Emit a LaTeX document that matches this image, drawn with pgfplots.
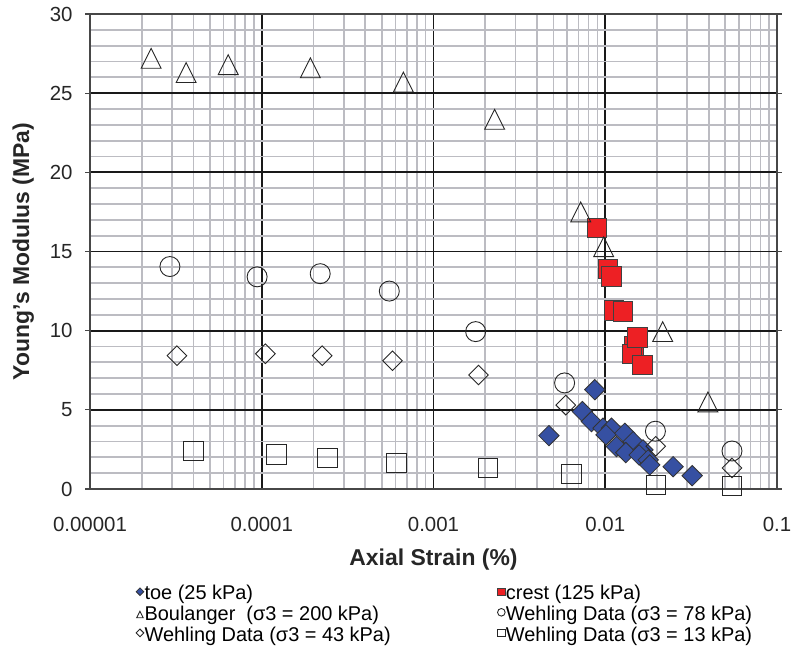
\documentclass[border=0pt]{standalone}
\usepackage{fontspec}
\setmainfont{Liberation Sans}
\usepackage{pgfplots}
\pgfplotsset{compat=1.18}
\definecolor{toeblue}{RGB}{54,80,162}
\definecolor{crestred}{RGB}{237,32,36}
\definecolor{gridgray}{RGB}{188,188,194}
\pgfplotsset{
  lg/.style={legend image code/.code={\draw[##1, mark size=3.8bp, line width=0.7bp] plot coordinates {(0.4em,0.34em)};}},
}
\begin{document}
\begin{tikzpicture}
\useasboundingbox (-90bp,-157bp) rectangle (702bp,489bp);
\begin{axis}[
  at={(0,0)}, anchor=south west,
  scale only axis, width=687bp, height=475bp,
  xmode=log, xmin=1e-5, xmax=0.1, ymin=0, ymax=30,
  clip=false,
  xtick={1e-5,1e-4,1e-3,1e-2,1e-1},
  xticklabels={0.00001,0.0001,0.001,0.01,0.1},
  minor xtick={2e-5,3e-5,4e-5,5e-5,6e-5,7e-5,8e-5,9e-5,
               2e-4,3e-4,4e-4,5e-4,6e-4,7e-4,8e-4,9e-4,
               2e-3,3e-3,4e-3,5e-3,6e-3,7e-3,8e-3,9e-3,
               2e-2,3e-2,4e-2,5e-2,6e-2,7e-2,8e-2,9e-2},
  ytick={0,5,10,15,20,25,30},
  minor ytick={1,2,3,4,6,7,8,9,11,12,13,14,16,17,18,19,21,22,23,24,26,27,28,29},
  grid=both,
  major grid style={black!90, line width=1.7bp},
  minor grid style={gridgray, line width=1.7bp},
  axis line style={draw=black!72, line width=1.8bp},
  tick align=outside,
  major tick length=5bp,
  minor tick length=0bp,
  xtick style={draw=none},
  ytick style={black!72, line width=1.2bp},
  ticklabel style={font=\fontsize{20.5}{24}\selectfont, text=black!85},
  /pgf/number format/assume math mode=true,
  xticklabel style={yshift=-20bp},
  yticklabel style={xshift=-9bp},
  xlabel={\textbf{Axial Strain (\%)}},
  ylabel={\textbf{Young's Modulus (MPa)}},
  label style={font=\fontsize{23}{27}\selectfont, text=black!85},
  xlabel style={yshift=-10bp},
  ylabel style={yshift=9bp},
  legend columns=2,
  legend cell align=left,
  legend style={
    at={(0,0)}, anchor=north west, xshift=43bp, yshift=-94bp,
    draw=none, fill=none,
    font=\fontsize{20}{20}\selectfont,
    nodes={inner sep=0.8bp, text height=14bp, text depth=4.2bp},
    row sep=0.8bp,
    /tikz/column 2/.style={column sep=106bp},
  },
]
% toe (25 kPa)
\addplot[only marks, mark=diamond*, mark size=10.2bp,
  mark options={xscale=1.333, fill=toeblue, draw=black!80, line width=0.8bp}, lg]
  coordinates {
  (4.70e-3,3.37) (8.69e-3,6.27) (7.36e-3,4.89) (8.31e-3,4.26) (9.71e-3,3.84)
  (1.087e-2,3.84) (1.01e-2,3.42) (1.30e-2,3.52) (1.453e-2,2.99) (1.162e-2,2.68)
  (1.318e-2,2.30) (1.658e-2,2.47) (1.574e-2,2.15) (1.778e-2,1.84) (1.817e-2,1.52)
  (2.485e-2,1.41) (3.208e-2,0.84)
  };
\addlegendentry{toe (25 kPa)}
% crest (125 kPa)
\addplot[only marks, mark=square*, mark size=9.8bp,
  mark options={fill=crestred, draw=black!75, line width=0.8bp}, lg]
  coordinates {
  (8.96e-3,16.5) (1.038e-2,13.9) (1.087e-2,13.44) (1.125e-2,11.28) (1.270e-2,11.22)
  (1.472e-2,9.05) (1.428e-2,8.54) (1.541e-2,9.58) (1.640e-2,7.85)
  };
\addlegendentry{crest (125 kPa)}
% Boulanger
\addplot[only marks, mark=triangle, mark size=11.5bp,
  mark options={yshift=-3.3bp, yscale=1.15, draw=black!85, line width=0.9bp}, lg]
  coordinates {
  (2.27e-5,27.2) (3.63e-5,26.3) (6.38e-5,26.8) (1.92e-4,26.6) (6.68e-4,25.7)
  (2.27e-3,23.35) (7.2e-3,17.5) (9.8e-3,15.3) (2.16e-2,9.94) (3.96e-2,5.5)
  };
\addlegendentry{Boulanger\ \ (σ3 = 200 kPa)}
% Wehling 78
\addplot[only marks, mark=o, mark size=10bp,
  mark options={draw=black!85, line width=0.9bp}, lg]
  coordinates {
  (2.92e-5,14.05) (9.4e-5,13.4) (2.19e-4,13.6) (5.53e-4,12.5) (1.76e-3,9.94)
  (5.8e-3,6.7) (1.96e-2,3.65) (5.47e-2,2.4)
  };
\addlegendentry{Wehling Data (σ3 = 78 kPa)}
% Wehling 43
\addplot[only marks, mark=diamond, mark size=9.8bp,
  mark options={xscale=1.333, draw=black!85, line width=0.9bp}, lg]
  coordinates {
  (3.21e-5,8.42) (1.05e-4,8.54) (2.25e-4,8.42) (5.77e-4,8.1) (1.83e-3,7.2)
  (5.89e-3,5.3) (1.97e-2,2.7) (5.47e-2,1.33)
  };
\addlegendentry{Wehling Data (σ3 = 43 kPa)}
% Wehling 13
\addplot[only marks, mark=square, mark size=9.8bp,
  mark options={draw=black!85, line width=0.9bp}, lg]
  coordinates {
  (3.99e-5,2.4) (1.22e-4,2.2) (2.41e-4,1.96) (6.08e-4,1.65) (2.07e-3,1.33)
  (6.38e-3,0.95) (1.97e-2,0.25) (5.47e-2,0.2)
  };
\addlegendentry{Wehling Data (σ3 = 13 kPa)}
\end{axis}
\end{tikzpicture}
\end{document}
